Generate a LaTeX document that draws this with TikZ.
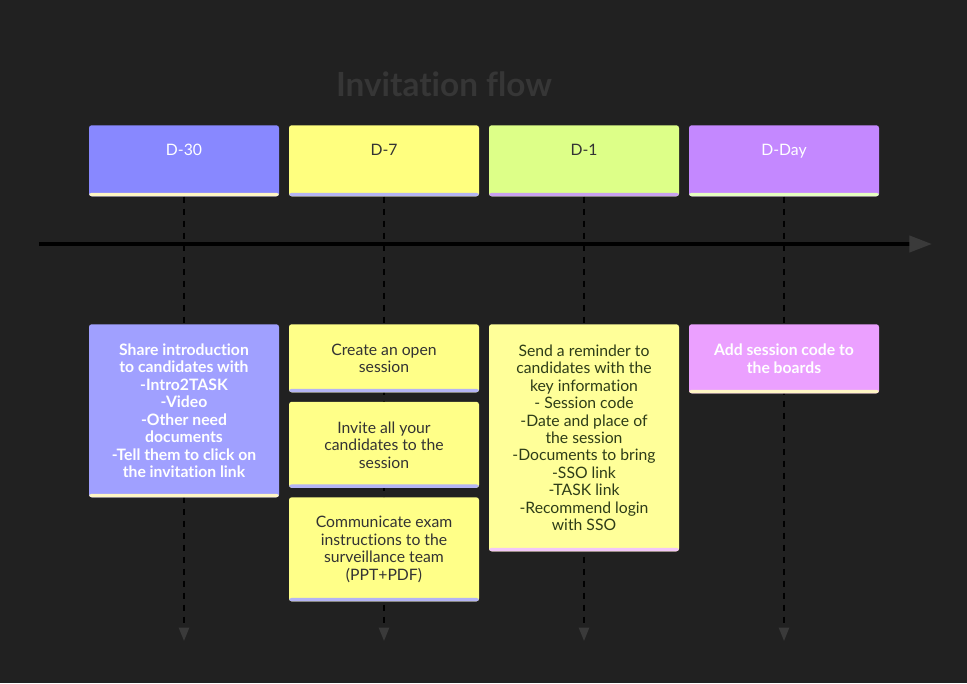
\documentclass[tikz,border=0pt]{standalone}
\usepackage{fontspec}
\setmainfont{Lato}[Ligatures=NoCommon]
\usetikzlibrary{positioning,arrows.meta}
\definecolor{bgdark}{HTML}{212121}
\definecolor{titlegray}{HTML}{363636}
\definecolor{tipgray}{HTML}{3A3A3A}
\definecolor{inkdark}{HTML}{333333}
\definecolor{inkolive}{HTML}{2E3D18}
\definecolor{headA}{HTML}{8888FF}
\definecolor{headB}{HTML}{FFFF7F}
\definecolor{headC}{HTML}{DDFF88}
\definecolor{headD}{HTML}{C488FF}
\definecolor{cardA}{HTML}{A0A0FF}
\definecolor{cardB}{HTML}{FFFF88}
\definecolor{cardC}{HTML}{FFFF99}
\definecolor{cardD}{HTML}{EBA0FF}
\definecolor{stripcream}{HTML}{FFF6C4}
\definecolor{stripblue}{HTML}{B4B4F4}
\definecolor{strippurple}{HTML}{C8A0F0}
\definecolor{stripgreen}{HTML}{E6FFC0}
\definecolor{strippink}{HTML}{F2C8F8}

\begin{document}
\begin{tikzpicture}[x=0.75pt, y=-0.75pt,
  every node/.style={font=\fontsize{11.8}{13.1}\selectfont},
  sticky/.style={rectangle, rounded corners=2pt, inner xsep=2pt, inner ysep=0pt,
    minimum width=142.5pt, align=center, anchor=north,
    path picture={\fill[#1] (path picture bounding box.south west)
      rectangle ([yshift=2.6pt]path picture bounding box.south east);}},
  head/.style={sticky=#1, minimum height=53.25pt, text height=7.5pt, text depth=15.75pt},
  card/.style={sticky=#1},
  vline/.style={black, line width=1.5pt, dash pattern=on 4.5pt off 4.5pt,
    -{Triangle[width=7.5pt, length=10pt, color=tipgray]}}]
  \fill[bgdark] (0,0) rectangle (967,683);
  \useasboundingbox (0,0) rectangle (967,683);

  \node[font=\fontsize{25}{29}\selectfont\bfseries, text=titlegray] (title) at (444,84) {Invitation flow};

  % timeline
  \coordinate (tstart) at (39,244);
  \coordinate (tend) at (932,244);
  \draw[black, line width=3pt, -{Triangle[width=12pt, length=17pt, color=tipgray]}] (tstart) -- (tend);

  % day headers
  \node[head=stripcream, fill=headA, text=white] (h30) at (184,125) {D-30};
  \node[head=stripblue, fill=headB, text=inkdark] (h7) at (384,125) {D-7};
  \node[head=strippurple, fill=headC, text=inkdark] (h1) at (584,125) {D-1};
  \node[head=stripgreen, fill=headD, text=white] (h0) at (784,125) {D-Day};

  \coordinate (e30) at (184,641);
  \coordinate (e7) at (384,641);
  \coordinate (e1) at (584,641);
  \coordinate (e0) at (784,641);
  \draw[vline] (h30.south) -- (e30);
  \draw[vline] (h7.south) -- (e7);
  \draw[vline] (h1.south) -- (e1);
  \draw[vline] (h0.south) -- (e0);

  % tasks
  \node[card=stripcream, fill=cardA, text=white, font=\fontsize{11.8}{13.1}\selectfont\bfseries,
    minimum height=129.75pt] (share) at (184,324)
    {Share introduction\\to candidates with\\-Intro2TASK\\-Video\\-Other need\\documents\\-Tell them to click on\\the invitation link};
  \node[card=stripblue, fill=cardB, text=inkdark, minimum height=51pt] (open) at (384,324)
    {Create an open\\session};
  \node[card=stripblue, fill=cardB, text=inkdark, minimum height=64.5pt, below=6.75pt of open] (invite)
    {Invite all your\\candidates to the\\session};
  \node[card=stripblue, fill=cardB, text=inkdark, minimum height=78pt, below=6.75pt of invite] (brief)
    {Communicate exam\\instructions to the\\surveillance team\\(PPT+PDF)};
  \node[card=strippink, fill=cardC, text=inkolive, minimum height=170.25pt] (remind) at (584,324)
    {Send a reminder to\\candidates with the\\key information\\- Session code\\-Date and place of\\the session\\-Documents to bring\\-SSO link\\-TASK link\\-Recommend login\\with SSO};
  \node[card=stripcream, fill=cardD, text=white, font=\fontsize{11.8}{13.1}\selectfont\bfseries,
    minimum height=51.75pt] (boards) at (784,324)
    {Add session code to\\the boards};
\end{tikzpicture}
\end{document}
